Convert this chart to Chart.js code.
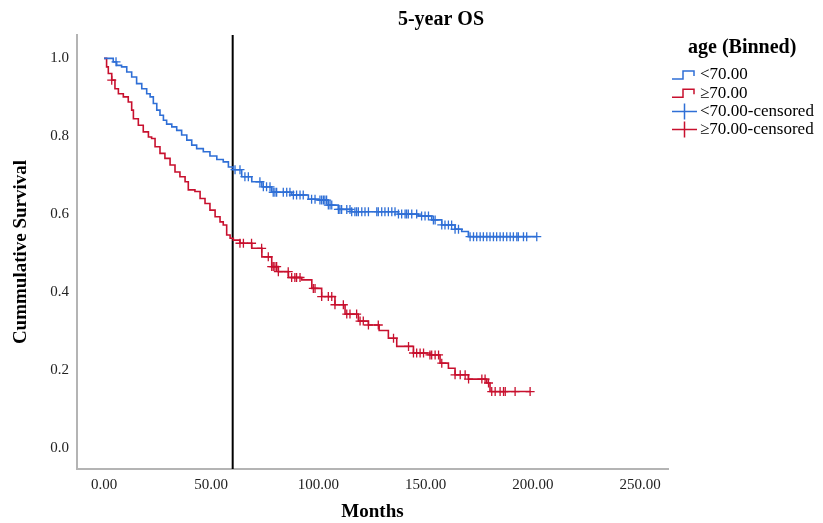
<!DOCTYPE html>
<html>
<head>
<meta charset="utf-8">
<script src="https://cdn.jsdelivr.net/npm/chart.js@4.4.1/dist/chart.umd.min.js"></script>
<style>
  html, body { margin: 0; padding: 0; background: #fff; }
  #wrap { width: 823px; height: 523px; position: relative; }
</style>
</head>
<body>
<div id="wrap"><canvas id="km"></canvas></div>
<script>
// survival curve steps (months, cumulative survival)
const youngTimes = [0, 2.8, 4.3, 5.9, 8.2, 10.6, 12.9, 15.2, 17.6, 19.9, 21.5, 23, 24.6, 26.1, 27.7, 29.2, 31.6, 33.9, 36.2, 38.6, 40.9, 43.2, 46.3, 49.4, 52.6, 55.6, 58, 60.3, 64.2, 68.9, 73.6, 78.2, 87.5, 95.3, 100, 104.6, 109.3, 115.5, 137.3, 146.6, 152.8, 157.5, 163.7, 166.8, 169.9, 201.8];
const youngSurv  = [1.0, 1.0, 0.991, 0.982, 0.978, 0.965, 0.952, 0.935, 0.922, 0.909, 0.901, 0.884, 0.867, 0.854, 0.841, 0.831, 0.824, 0.815, 0.803, 0.790, 0.777, 0.768, 0.760, 0.749, 0.740, 0.734, 0.721, 0.714, 0.696, 0.683, 0.670, 0.656, 0.649, 0.638, 0.636, 0.623, 0.612, 0.606, 0.600, 0.595, 0.585, 0.572, 0.561, 0.555, 0.542, 0.542];

const oldTimes = [0, 1.2, 2.0, 3.6, 5.1, 6.7, 9, 11.3, 12.9, 13.7, 16, 18.3, 20.7, 22.2, 23.8, 26.1, 28.4, 30.8, 33.1, 35.4, 37.8, 39.3, 42.4, 44.8, 47.1, 49.4, 51.8, 54.1, 55.6, 57.2, 58.8, 60.3, 63.4, 68.9, 73.6, 78.2, 81.3, 86, 92.2, 96.9, 101.5, 107.7, 112.4, 118.6, 123.3, 128.3, 132.6, 136.5, 144.3, 152, 156.7, 160.6, 163.7, 169.9, 178.5, 180, 198.7];
const oldSurv  = [1.0, 0.978, 0.961, 0.944, 0.922, 0.909, 0.901, 0.888, 0.867, 0.845, 0.828, 0.811, 0.798, 0.794, 0.773, 0.756, 0.743, 0.726, 0.708, 0.696, 0.683, 0.662, 0.658, 0.640, 0.627, 0.610, 0.593, 0.580, 0.572, 0.546, 0.538, 0.533, 0.525, 0.512, 0.490, 0.465, 0.452, 0.437, 0.431, 0.409, 0.388, 0.367, 0.343, 0.325, 0.315, 0.301, 0.281, 0.260, 0.243, 0.238, 0.217, 0.204, 0.187, 0.176, 0.166, 0.144, 0.144];

// censoring times (months)
const youngCensored = [5.6, 61.1, 63.4, 65.7, 67.3, 72.7, 74.3, 75.8, 77.4, 78.9, 79.7, 80.5, 83.6, 85.2, 86.7, 88.3, 89.8, 91.4, 92.9, 96.8, 98.4, 100.7, 101.5, 102.3, 103, 103.8, 104.6, 105.4, 106.2, 109.3, 110, 110.8, 113.2, 114.7, 115.5, 117, 117.8, 118.6, 120.2, 121.7, 123.3, 127.2, 127.9, 129.5, 131, 132.6, 134.2, 135.7, 137.3, 138.8, 140.4, 141.1, 141.9, 143.5, 145.8, 148.1, 149.7, 151.3, 153.6, 154.4, 157.5, 159, 160.6, 162.1, 163.7, 165.3, 170.7, 172.3, 173.8, 175.4, 176.9, 178.5, 180, 181.6, 183.1, 184.7, 186.2, 187.8, 189.4, 190.9, 192.5, 193.2, 195.6, 197.1, 201.8];
const oldCensored = [3.6, 63.4, 65, 68.8, 73.5, 76.6, 78.2, 78.9, 79.7, 80.5, 81.3, 85.9, 87.5, 89, 89.8, 91.4, 97.6, 98.4, 101.5, 104.6, 106.2, 107.7, 111.6, 113.2, 114.7, 117.8, 119.4, 120.9, 123.3, 127.9, 135, 142, 144.3, 145.8, 147.4, 149, 152, 152.8, 154.4, 156, 157.5, 163.7, 166.1, 168.4, 170, 176.2, 177.7, 179.3, 180.8, 182.4, 184.7, 186.3, 187.1, 191.7, 198.7];

const xTicks = [0, 50, 100, 150, 200, 250];
const yTicks = [0, 0.2, 0.4, 0.6, 0.8, 1.0];
const cutoffMonths = 60;

const BLUE = '#2f6fd6';
const RED = '#c8102e';
const FONT = "'Liberation Serif', 'DejaVu Serif', serif";

function steps(times, surv) {
    return times.map((t, i) => ({x: t, y: surv[i]}));
}
// survival at time t from the step function
function survAt(times, surv, t) {
    let s = surv[0];
    for (let i = 0; i < times.length; i++) {
        if (times[i] <= t) s = surv[i];
    }
    return s;
}
function marks(cens, times, surv) {
    return cens.map(t => ({x: t, y: survAt(times, surv, t)}));
}

const overlay = {
    id: 'overlay',
    beforeDatasetsDraw(chart) {
        const {ctx, chartArea, scales} = chart;
        const x = scales.x.getPixelForValue(cutoffMonths);
        ctx.save();
        ctx.strokeStyle = '#000';
        ctx.lineWidth = 2;
        ctx.beginPath();
        ctx.moveTo(x, chartArea.top);
        ctx.lineTo(x, chartArea.bottom);
        ctx.stroke();
        ctx.restore();
    },
    afterDraw(chart) {
        const ctx = chart.ctx;
        ctx.save();
        ctx.fillStyle = '#000';
        ctx.textBaseline = 'middle';
        ctx.textAlign = 'center';
        ctx.font = 'bold 20px ' + FONT;
        ctx.fillText('5-year OS', 441, 20);

        // legend
        ctx.textAlign = 'left';
        ctx.fillText('age (Binned)', 688, 48);
        ctx.font = '17px ' + FONT;
        const rows = [
            {label: '<70.00', color: BLUE, step: true},
            {label: '\u226570.00', color: RED, step: true},
            {label: '<70.00-censored', color: BLUE, step: false},
            {label: '\u226570.00-censored', color: RED, step: false}
        ];
        rows.forEach((r, i) => {
            const y = 75 + i * 18.2;
            ctx.strokeStyle = r.color;
            ctx.lineWidth = 1.5;
            ctx.beginPath();
            if (r.step) {
                ctx.moveTo(672, y + 4);
                ctx.lineTo(683, y + 4);
                ctx.lineTo(683, y - 4);
                ctx.lineTo(694, y - 4);
                ctx.lineTo(694, y + 1);
            } else {
                ctx.moveTo(672, y);
                ctx.lineTo(697, y);
                ctx.moveTo(684.5, y - 8);
                ctx.lineTo(684.5, y + 8);
            }
            ctx.stroke();
            ctx.fillStyle = '#000';
            ctx.fillText(r.label, 700, y);
        });
        ctx.restore();
    }
};

new Chart(document.getElementById('km'), {
    type: 'line',
    data: {
        datasets: [
            {
                label: '<70.00',
                data: steps(youngTimes, youngSurv),
                borderColor: BLUE,
                borderWidth: 1.6,
                stepped: true,
                pointRadius: 0,
                fill: false
            },
            {
                label: '\u226570.00',
                data: steps(oldTimes, oldSurv),
                borderColor: RED,
                borderWidth: 1.6,
                stepped: true,
                pointRadius: 0,
                fill: false
            },
            {
                label: '<70.00-censored',
                type: 'scatter',
                data: marks(youngCensored, youngTimes, youngSurv),
                pointStyle: 'cross',
                pointRadius: 4.5,
                borderColor: BLUE,
                borderWidth: 1.3,
                showLine: false
            },
            {
                label: '\u226570.00-censored',
                type: 'scatter',
                data: marks(oldCensored, oldTimes, oldSurv),
                pointStyle: 'cross',
                pointRadius: 4.5,
                borderColor: RED,
                borderWidth: 1.3,
                showLine: false
            }
        ]
    },
    options: {
        responsive: true,
        maintainAspectRatio: false,
        animation: false,
        layout: { padding: { left: 0, right: 155, top: 35, bottom: 0 } },
        plugins: {
            legend: { display: false },
            tooltip: { enabled: false }
        },
        scales: {
            x: {
                type: 'linear',
                min: -12.6,
                max: 263,
                afterBuildTicks: s => { s.ticks = xTicks.map(v => ({value: v})); },
                afterFit: s => { s.height = 54; },
                grid: { display: false, drawTicks: false },
                border: { color: '#b4b4b4', width: 2 },
                ticks: {
                    padding: 7,
                    color: '#222',
                    font: { family: FONT, size: 15 },
                    callback: v => Number(v).toFixed(2)
                },
                title: {
                    display: true,
                    text: 'Months',
                    color: '#000',
                    padding: 0,
                    font: { family: FONT, size: 19, weight: 'bold' }
                }
            },
            y: {
                min: -0.055,
                max: 1.06,
                afterBuildTicks: s => { s.ticks = yTicks.map(v => ({value: v})); },
                afterFit: s => { s.width = 77; },
                grid: { display: false, drawTicks: false },
                border: { color: '#b4b4b4', width: 2 },
                ticks: {
                    padding: 8,
                    color: '#222',
                    font: { family: FONT, size: 15 },
                    callback: v => Number(v).toFixed(1)
                },
                title: {
                    display: true,
                    text: 'Cummulative Survival',
                    color: '#000',
                    padding: 10,
                    font: { family: FONT, size: 19, weight: 'bold' }
                }
            }
        }
    },
    plugins: [overlay]
});
</script>
</body>
</html>
